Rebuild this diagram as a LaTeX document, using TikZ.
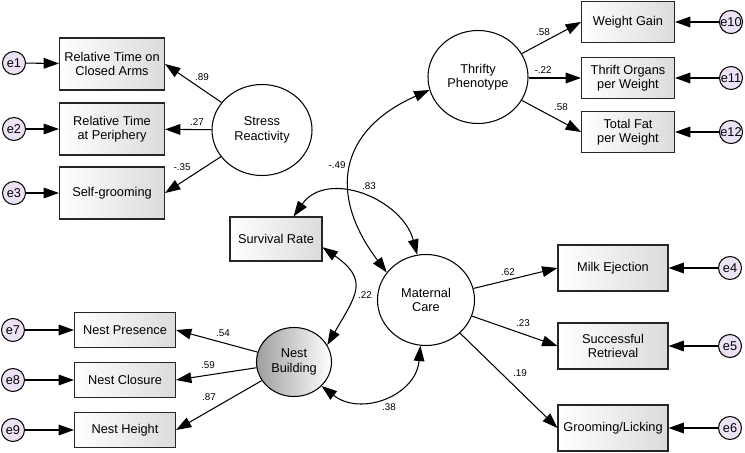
\documentclass[tikz,border=0pt]{standalone}
\usepackage{fontspec}
\setmainfont{Liberation Sans}
\usetikzlibrary{shapes.geometric,arrows.meta}
\definecolor{errfill}{RGB}{237,226,245}

\begin{document}
\begin{tikzpicture}[x=0.03cm, y=0.03cm, line width=0.9pt,
                    obs/.style={rectangle,draw=black!85,left color=white,right color=black!14,
                                font=\fontsize{10.9}{12.2}\selectfont,align=center,inner sep=0pt},
                    lat/.style={ellipse,draw,fill=white,font=\fontsize{10.9}{12.2}\selectfont,align=center,inner sep=0pt},
                    err/.style={circle,draw,fill=errfill,minimum size=0.69cm,inner sep=0pt,font=\fontsize{10.9}{12}\selectfont},
                    lbl/.style={font=\fontsize{8.4}{10}\selectfont,inner sep=0pt},
                    tall box/.style={obs,minimum width=3.15cm,minimum height=1.56cm},
                    nest box/.style={obs,minimum width=3.03cm,minimum height=1.05cm},
                    thrift box/.style={obs,minimum width=2.79cm,minimum height=1.23cm},
                    care box/.style={obs,minimum width=3.3cm,minimum height=1.38cm},
                    path arrow/.style={-{Triangle[length=4.6mm,width=3.2mm]}},
                    cov arrow/.style={{Triangle[length=4.6mm,width=3.2mm]}-{Triangle[length=4.6mm,width=3.2mm]}}]

  \useasboundingbox (0,0) rectangle (745,-453);

  % stress reactivity
  \node[lat,minimum width=3cm,minimum height=2.73cm] (SR) at (262,-130) {Stress\\Reactivity};
  \node[tall box] (RT1) at (112,-64) {Relative Time on\\Closed Arms};
  \node[tall box] (RT2) at (112,-129) {Relative Time\\at Periphery};
  \node[tall box] (SG) at (112,-193) {Self-grooming};
  \node[err] (e1) at (14,-63) {e1};
  \node[err] (e2) at (14,-129) {e2};
  \node[err] (e3) at (14,-193) {e3};

  % thrifty phenotype
  \node[lat,minimum width=3cm,minimum height=2.79cm] (TP) at (478,-77) {Thrifty\\Phenotype};
  \node[thrift box] (WG) at (628,-22) {Weight Gain};
  \node[thrift box] (TO) at (628,-78) {Thrift Organs\\per Weight};
  \node[thrift box] (TF) at (628,-132) {Total Fat\\per Weight};
  \node[err] (e10) at (731,-22) {e10};
  \node[err] (e11) at (731,-78) {e11};
  \node[err] (e12) at (731,-132) {e12};

  % maternal care
  \node[obs,minimum width=2.76cm,minimum height=1.32cm] (SurvR) at (276,-239) {Survival Rate};
  \node[lat,minimum width=2.91cm,minimum height=2.73cm] (MC) at (426,-300) {Maternal\\Care};
  \node[care box] (ME) at (613,-268) {Milk Ejection};
  \node[care box] (SRt) at (613,-346) {Successful\\Retrieval};
  \node[care box] (GL) at (613,-428) {Grooming/Licking};
  \node[err] (e4) at (730,-268) {e4};
  \node[err] (e5) at (730,-346) {e5};
  \node[err] (e6) at (730,-428) {e6};

  % nest building
  \node[lat,left color=black!38,right color=white,minimum width=2.25cm,minimum height=2.07cm] (NB) at (294,-362) {Nest\\Building};
  \node[nest box] (NP) at (125,-330) {Nest Presence};
  \node[nest box] (NC) at (125,-380) {Nest Closure};
  \node[nest box] (NH) at (125,-430) {Nest Height};
  \node[err] (e7) at (13,-330) {e7};
  \node[err] (e8) at (13,-380) {e8};
  \node[err] (e9) at (13,-430) {e9};

\path[path arrow]
    (e1) edge (RT1)
    (e2) edge (RT2)
    (e3) edge (SG)
    (SR) edge (RT1.east)
    (SR) edge (RT2)
    (SR) edge (SG.east)

    (e10) edge (WG)
    (e11) edge (TO)
    (e12) edge (TF)
    (TP) edge (WG.west)
    (TP.east |- TO.west) edge (TO.west)
    (TP) edge (TF.west)

    (e4) edge (ME)
    (e5) edge (SRt)
    (e6) edge (GL)
    (MC) edge (ME.west)
    (MC) edge (SRt.west)
    (MC) edge (GL.west)

    (e7) edge (NP)
    (e8) edge (NC)
    (e9) edge (NH)
    (NB) edge (NP.east)
    (NB) edge (NC.east)
    (NB) edge (NH.east);

  % correlations
  \draw[cov arrow] (MC.145) to[out=127,in=204,looseness=1.35] (TP.195);
  \draw[cov arrow] (SurvR.52) to[out=55,in=105,looseness=1.15] (MC.101);
  \draw[cov arrow] (SurvR.-10) to[out=-35,in=60,looseness=1.5] (NB.27);
  \draw[cov arrow] (NB.-41) to[out=-38,in=-95,looseness=1.2] (MC.-97);

  \node[lbl] (l1) at (202,-77) {.89};
  \node[lbl] (l2) at (197,-122) {.27};
  \node[lbl] (l3) at (182,-167) {-.35};
  \node[lbl] (l4) at (543,-32) {.58};
  \node[lbl] (l5) at (543,-70) {-.22};
  \node[lbl] (l6) at (561,-107) {.58};
  \node[lbl] (l7) at (337,-165) {-.49};
  \node[lbl] (l8) at (369,-186) {.83};
  \node[lbl] (l9) at (365,-295) {.22};
  \node[lbl] (l10) at (389,-407) {.38};
  \node[lbl] (l11) at (223,-333) {.54};
  \node[lbl] (l12) at (208,-365) {.59};
  \node[lbl] (l13) at (209,-397) {.87};
  \node[lbl] (l14) at (508,-272) {.62};
  \node[lbl] (l15) at (523,-323) {.23};
  \node[lbl] (l16) at (520,-373) {.19};

\end{tikzpicture}
\end{document}
